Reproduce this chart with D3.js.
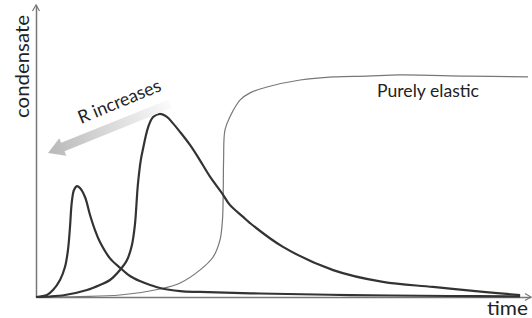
<!DOCTYPE html>
<html><head><meta charset="utf-8">
<script src="https://cdn.jsdelivr.net/npm/d3@7"></script>
<style>body{margin:0;background:#fff}svg{display:block}text{font-family:Lato,"Open Sans",sans-serif;fill:#222}</style>
</head><body><div id="chart"></div>
<script>
// time (0-100) and condensate (0-100) in data units
const smallPeakT = [0,2.24,3.46,4.88,5.89,6.5,6.91,7.26,7.72,8.33,8.94,9.96,10.98,11.99,13.0,15.0,17.1,19.1,21.1,23.2,25.2,29.3,33.3,45.5,63.8,84.1,98.4];
const smallPeakV = [0,0.7,2.5,6.1,10.7,16.8,25,33.6,38.2,39.6,38.9,35.7,29.3,23.9,19.6,13.9,10.4,7.5,5.7,4.3,3.2,2.1,1.8,1.25,0.7,0.36,0.18];
const largePeakT = [0,2.85,5.89,10.37,13.0,15.04,17.07,18.5,19.5,20.1,20.7,21.3,21.7,22.8,23.8,25.2,26.6,27.8,29.3,31.3,33.3,35.4,37.8,39.4,42.1,43.5,50.2,60.4,70.5,80.7,90.9,98.4];
const largePeakV = [0,0.18,0.71,2.5,4.3,6.07,9.64,13.2,18.6,25.7,40,48.9,52.5,60.7,64.3,65.4,64.3,62.1,58.9,54.3,48.9,42.9,37.1,32.9,28.6,26.4,17.9,9.6,5.4,3.6,1.8,0.7];
const elasticT = [0,8.94,17.07,25.2,29.3,33.3,36.0,37.4,37.9,38.05,38.13,38.4,39.4,41.5,43.5,46.95,53.7,60.4,67.3,74.0,87.6,100];
const elasticV = [0,0.18,0.71,2.86,5.0,9.6,14.3,20.4,27.5,37.1,48.9,59.6,64.3,70.4,72.9,75,77.5,78.6,78.9,79.3,78.9,78.6];
const labels = {y:"condensate", x:"time", elastic:"Purely elastic", arrow:"R increases"};

const W=532,H=318;
const svg=d3.select("#chart").append("svg").attr("width",W).attr("height",H);
const x=d3.scaleLinear().domain([0,100]).range([36,528]);
const y=d3.scaleLinear().domain([0,100]).range([297,17]);

// axes
const yAxisScale=y.copy().domain([0,y.invert(5)]).range([297,5]);
const xAxisScale=x.copy().domain([0,x.invert(531)]).range([36,531]);
const gy=svg.append("g").attr("transform","translate(36,0)").call(d3.axisLeft(yAxisScale).ticks(0).tickSizeOuter(0));
const gx=svg.append("g").attr("transform","translate(0,297)").call(d3.axisBottom(xAxisScale).ticks(0).tickSizeOuter(0));
[gy,gx].forEach(g=>g.select(".domain").attr("stroke","#777").attr("stroke-width",1.5));
// arrowheads
svg.append("path").attr("d",`M${36-3.5},${5+6}L36,5L${36+3.5},${5+6}`).attr("fill","none").attr("stroke","#777").attr("stroke-width",1.2);
svg.append("path").attr("d",`M${531-6},${297-3.5}L531,297L${531-6},${297+3.5}`).attr("fill","none").attr("stroke","#777").attr("stroke-width",1.2);

const line=d3.line().x(d=>x(d[0])).y(d=>y(d[1])).curve(d3.curveCatmullRom.alpha(0.5));
const zip=(a,b)=>a.map((v,i)=>[v,b[i]]);

svg.append("path").attr("d",line(zip(elasticT,elasticV))).attr("fill","none").attr("stroke","#777").attr("stroke-width",1.2);
svg.append("path").attr("d",line(zip(smallPeakT,smallPeakV))).attr("fill","none").attr("stroke","#333").attr("stroke-width",2.2);
svg.append("path").attr("d",line(zip(largePeakT,largePeakV))).attr("fill","none").attr("stroke","#333").attr("stroke-width",2.2);

// gradient arrow
const defs=svg.append("defs");
const grad=defs.append("linearGradient").attr("id","ag").attr("gradientUnits","userSpaceOnUse").attr("x1",0).attr("y1",0).attr("x2",132).attr("y2",0);
grad.append("stop").attr("offset",0).attr("stop-color","#b8b8b8");
grad.append("stop").attr("offset",1).attr("stop-color","#fbfbfb");
svg.append("g").attr("transform","translate(48,153) rotate(-22)")
  .append("path").attr("d","M0,0L16,-9.5L16,-4.5L132,-4.5L132,4.5L16,4.5L16,9.5Z").attr("fill","url(#ag)");

// texts
svg.append("text").attr("transform","translate(28.5,66.5) rotate(-90)").attr("text-anchor","middle")
  .style("font-size","19px").attr("textLength",103).attr("lengthAdjust","spacingAndGlyphs").text(labels.y);
svg.append("text").attr("x",377).attr("y",97).style("font-size","18px").attr("textLength",102).attr("lengthAdjust","spacingAndGlyphs").text(labels.elastic);
svg.append("text").attr("x",487).attr("y",315).style("font-size","20px").attr("textLength",41).attr("lengthAdjust","spacingAndGlyphs").text(labels.x);
svg.append("text").attr("transform","translate(81,124) rotate(-22.5)").style("font-size","18px").attr("textLength",88).attr("lengthAdjust","spacingAndGlyphs").text(labels.arrow);
</script></body></html>
